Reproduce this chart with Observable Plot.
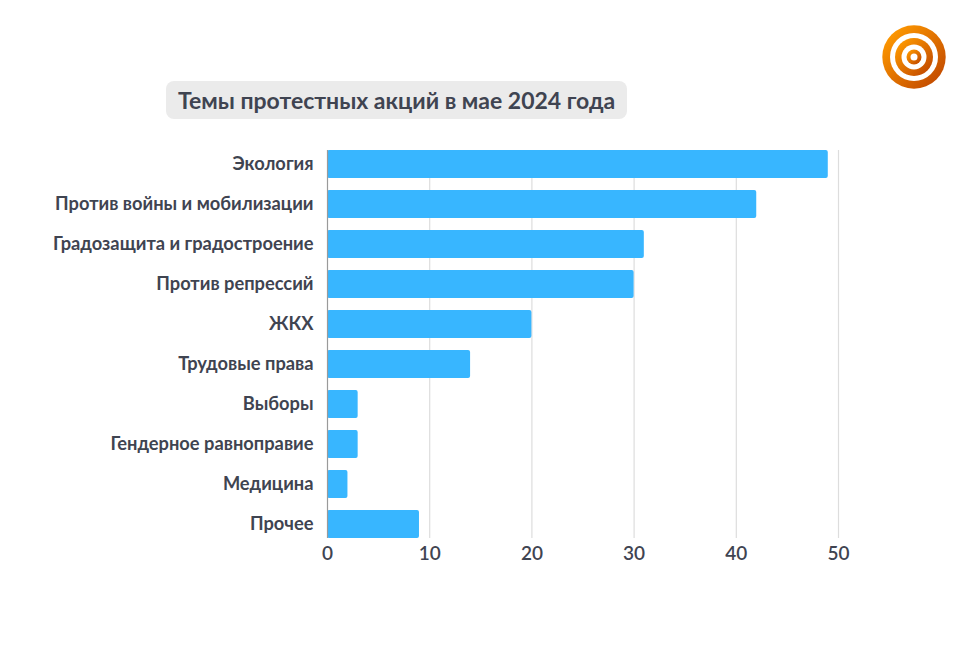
<!DOCTYPE html>
<html>
<head>
<meta charset="utf-8">
<script src="https://cdn.jsdelivr.net/npm/d3@7"></script>
<script src="https://cdn.jsdelivr.net/npm/@observablehq/plot@0.6"></script>
<style>
  html, body { margin: 0; padding: 0; background: #fff; }
  #wrap { position: relative; width: 969px; height: 669px; font-family: Lato, "Noto Sans", sans-serif; }
  #title { position: absolute; left: 166px; top: 81px; width: 449px; height: 38px; padding-left: 12px;
    background: #ebebeb; border-radius: 8px; font-weight: 700; font-size: 23px; line-height: 39px; color: #3f4451; white-space: nowrap; }
  #logo { position: absolute; left: 881px; top: 24px; }
  #chart { position: absolute; left: 0; top: 0; }
</style>
</head>
<body>
<div id="wrap">
  <div id="chart"></div>
  <div id="title">Темы протестных акций в мае 2024 года</div>
  <svg id="logo" width="66" height="66" viewBox="0 0 66 66">
    <defs>
      <linearGradient id="g" x1="0.1" y1="0.1" x2="0.9" y2="0.9">
        <stop offset="0" stop-color="#ff9a00"/>
        <stop offset="1" stop-color="#c24a00"/>
      </linearGradient>
    </defs>
    <circle cx="33" cy="33" r="31.7" fill="url(#g)"/>
    <circle cx="33" cy="33" r="24" fill="#fff"/>
    <circle cx="33" cy="33" r="19" fill="url(#g)"/>
    <circle cx="33" cy="33" r="12.5" fill="#fff"/>
    <circle cx="33" cy="33" r="7.5" fill="url(#g)"/>
    <circle cx="33" cy="33" r="3.5" fill="#fff"/>
  </svg>
</div>
<script>
const categories = [
  "Экология",
  "Против войны и мобилизации",
  "Градозащита и градостроение",
  "Против репрессий",
  "ЖКХ",
  "Трудовые права",
  "Выборы",
  "Гендерное равноправие",
  "Медицина",
  "Прочее"
];
const values = [49, 42, 31, 30, 20, 14, 3, 3, 2, 9];
const xTicks = [0, 10, 20, 30, 40, 50];

const data = categories.map((c, i) => ({category: c, value: values[i]}));

const chart = Plot.plot({
  width: 969,
  height: 669,
  marginLeft: 327,
  marginRight: 131,
  marginTop: 150,
  marginBottom: 131,
  style: {fontFamily: "Lato, 'Noto Sans', sans-serif", color: "#3f4451", background: "transparent"},
  x: {domain: [0, 50], ticks: xTicks, label: null},
  y: {domain: categories, paddingInner: 0.3, paddingOuter: 0, label: null},
  marks: [
    Plot.ruleX(xTicks.filter(d => d > 0), {stroke: "#dddddd", strokeWidth: 1.2}),
    Plot.barX(data, {x: "value", y: "category", fill: "#38b6ff", rx: 2}),
    Plot.ruleX([0], {stroke: "#9a9a9a", strokeWidth: 1.2}),
    Plot.axisX({ticks: xTicks, tickSize: 0, tickPadding: 8, fontSize: 19, fontWeight: 600, label: null}),
    Plot.axisY({tickSize: 0, tickPadding: 14, fontSize: 18.3, fontWeight: 700, label: null})
  ]
});
document.getElementById("chart").appendChild(chart);
</script>
</body>
</html>
